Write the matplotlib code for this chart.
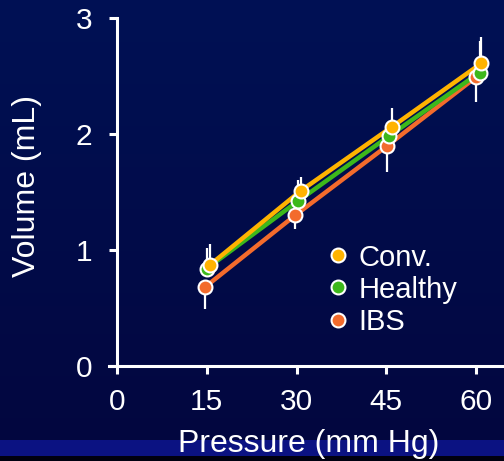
import numpy as np
import matplotlib
matplotlib.use("Agg")
import matplotlib.pyplot as plt
from matplotlib.lines import Line2D
from matplotlib.patches import Rectangle

plt.rcParams['font.family'] = ['Liberation Sans', 'DejaVu Sans']

# Data
series = ["Conv.", "Healthy", "IBS"]
pressure = {
    "Conv.":   [15.5, 30.7, 45.9, 60.9],
    "Healthy": [15.0, 30.2, 45.4, 60.6],
    "IBS":     [14.7, 29.8, 45.2, 60.0],
}
volume = {
    "Conv.":   [0.87, 1.51, 2.06, 2.61],
    "Healthy": [0.84, 1.42, 1.98, 2.53],
    "IBS":     [0.68, 1.30, 1.90, 2.49],
}
err_up = {
    "Conv.":   [0.18, 0.12, 0.16, 0.23],
    "Healthy": [0.18, 0.18, 0.12, 0.27],
    "IBS":     [0.0, 0.0, 0.0, 0.0],
}
err_down = {
    "Conv.":   [0.0, 0.0, 0.0, 0.0],
    "Healthy": [0.0, 0.0, 0.0, 0.0],
    "IBS":     [0.19, 0.12, 0.23, 0.21],
}
colors = {"Conv.": "#FFB300", "Healthy": "#3DB81B", "IBS": "#F36B2C"}
xticks = [0, 15, 30, 45, 60]
yticks = [0, 1, 2, 3]

W, H = 504, 461
fig = plt.figure(figsize=(W / 100, H / 100), dpi=100)

# background gradient
bg = fig.add_axes([0, 0, 1, 1], zorder=-10)
top = np.array([0x00, 0x11, 0x55]) / 255
bot = np.array([0x03, 0x06, 0x3e]) / 255
t = np.linspace(0, 1, 200)[:, None]
grad = (top[None, :] * (1 - t) + bot[None, :] * t)[:, None, :]
bg.imshow(grad, aspect='auto', extent=[0, 1, 0, 1], origin='upper')
bg.add_patch(Rectangle((0, (H - 456) / H), 1, 16 / H, color="#0b1282", lw=0))
bg.add_patch(Rectangle((0, 0), 1, (H - 456) / H, color="#000010", lw=0))
bg.set_xlim(0, 1); bg.set_ylim(0, 1)
bg.axis('off')

left_px, right_px, top_px, bottom_px = 109, 504, 18, 366
ax = fig.add_axes([left_px / W, 1 - bottom_px / H, (right_px - left_px) / W, (bottom_px - top_px) / H])
ax.patch.set_alpha(0)
px_per_unit = (476 - 117) / 60
ax.set_xlim(-(117 - left_px) / px_per_unit, (right_px - 117) / px_per_unit)
ax.set_ylim(0, 3)

for s in ["IBS", "Healthy", "Conv."]:
    x = pressure[s]; y = volume[s]
    ax.errorbar(x, y, yerr=[err_down[s], err_up[s]], fmt='none', ecolor='white',
                elinewidth=1.6, capsize=0, zorder=2)
for i, s in enumerate(["IBS", "Healthy", "Conv."]):
    ax.plot(pressure[s], volume[s], color=colors[s], lw=3.2, zorder=3 + i,
            solid_capstyle='round')
for i, s in enumerate(["IBS", "Healthy", "Conv."]):
    ax.plot(pressure[s], volume[s], 'o', color=colors[s], ms=10,
            mec='white', mew=1.5, zorder=10 + i)

for sp in ['top', 'right']:
    ax.spines[sp].set_visible(False)
ax.spines['left'].set_position(('data', 0))
for sp in ['left', 'bottom']:
    ax.spines[sp].set_color('white')
    ax.spines[sp].set_linewidth(2.2)
ax.set_xticks(xticks)
ax.set_yticks(yticks)
ax.tick_params(colors='white', width=2.2, length=6, labelsize=21.5, pad=12)
ax.tick_params(axis='x', pad=10)

fig.text(309 / W, 1 - 444 / H, "Pressure (mm Hg)", color='white', fontsize=23,
         ha='center', va='center')
fig.text(27 / W, 1 - 186 / H, "Volume (mL)", color='white', fontsize=23,
         ha='center', va='center', rotation=90)

handles = [Line2D([], [], ls='none', marker='o', color=colors[s], ms=10,
                  mec='white', mew=1.5) for s in series]
leg = ax.legend(handles, series, loc='upper left', bbox_to_anchor=(317 / W, 1 - 229 / H),
                bbox_transform=fig.transFigure, frameon=False, fontsize=21,
                labelcolor='white', handlelength=0.45, handletextpad=0.48,
                labelspacing=0.14, borderpad=0)

fig.savefig("out.png", dpi=100)
